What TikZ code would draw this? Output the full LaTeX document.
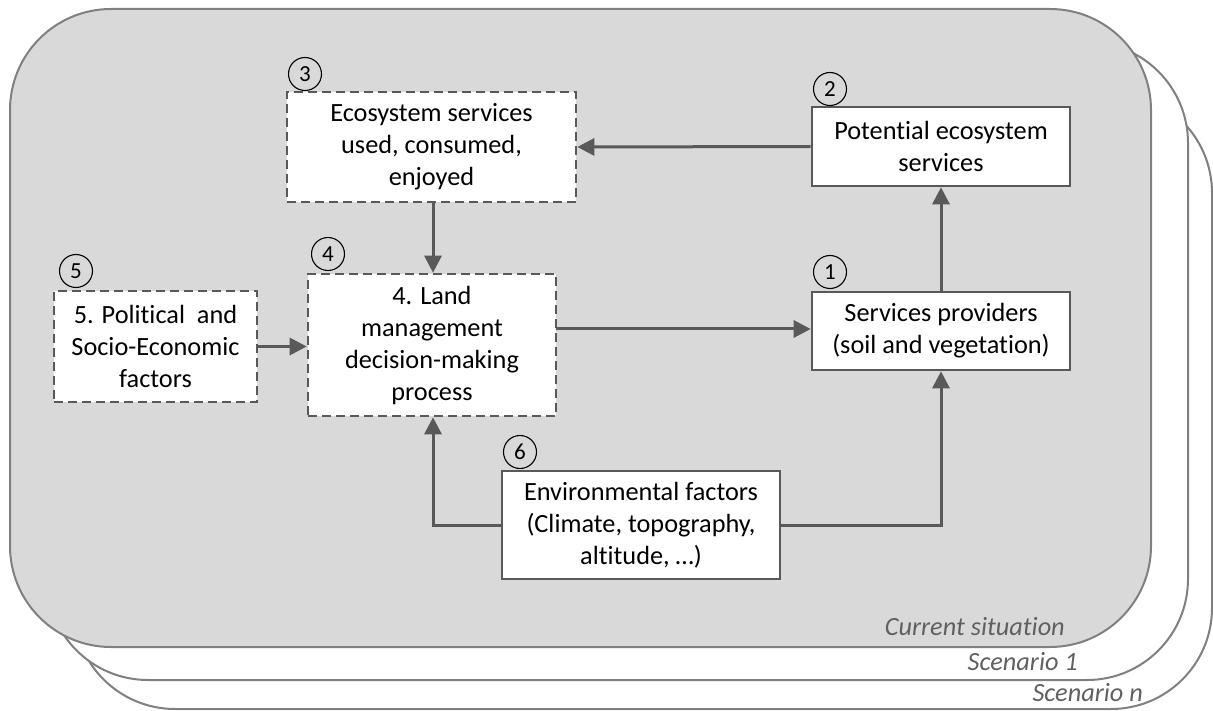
\documentclass[tikz,border=0pt]{standalone}
\usepackage{fontspec}
\setmainfont{Carlito}[Ligatures={NoCommon}]
\usetikzlibrary{arrows.meta}
\definecolor{edge}{HTML}{595959}
\definecolor{frame}{HTML}{808080}
\definecolor{panel}{HTML}{D9D9D9}
\definecolor{tagtext}{HTML}{606060}
\begin{document}
\begin{tikzpicture}[x=1pt,y=-1pt,
  every node/.style={font=\fontsize{26.3}{32}\selectfont},
  panelbox/.style={draw=frame, line width=2pt, rounded corners=101pt},
  solidbox/.style={draw=edge, line width=2.6pt, fill=white, align=center, inner sep=0pt},
  dashbox/.style={solidbox, dash pattern=on 9pt off 5pt},
  num/.style={draw=black, line width=1.1pt, circle, minimum size=33pt, inner sep=0pt, font=\fontsize{23}{23}\selectfont},
  arr/.style={draw=edge, line width=3pt, -{Triangle[length=17pt,width=17pt]}},
  tag/.style={font=\fontsize{26.3}{31}\selectfont\itshape, text=tagtext, anchor=base east, inner sep=0pt}]
\useasboundingbox[fill=white] (0,0) rectangle (1213,711);

% stacked scenario panels
\draw[panelbox, fill=white] (74,92) rectangle (1212,709);
\draw[panelbox, fill=white] (47,42) rectangle (1188,680);
\draw[panelbox, fill=panel] (10,9) rectangle (1151,647);

\node[tag] (tn) at (1143,701) {Scenario n};
\node[tag] (t1) at (1078,670) {Scenario 1};
\node[tag] (tc) at (1065,635) {Current situation};

% boxes
\node[dashbox, minimum width=289pt, minimum height=110pt] (b3) at (431.5,147) {Ecosystem services\\used, consumed,\\enjoyed};
\node[solidbox, minimum width=258pt, minimum height=79pt] (b2) at (941,146.5) {Potential ecosystem\\services};
\node[dashbox, minimum width=203pt, minimum height=111pt] (b5) at (155.5,346.5) {5. Political\ \ and\\Socio-Economic\\factors};
\node[dashbox, minimum width=248pt, minimum height=142pt] (b4) at (432,345) {4. Land\\management\\decision-making\\process};
\node[solidbox, minimum width=258pt, minimum height=78pt] (b1) at (941,331) {Services providers\\(soil and vegetation)};
\node[solidbox, minimum width=278pt, minimum height=108pt] (b6) at (641,525) {Environmental factors\\(Climate, topography,\\altitude, \dots)};

% numbers
\node[num] (n3) at (305,74) {3};
\node[num] (n2) at (830,89) {2};
\node[num] (n5) at (76,271) {5};
\node[num] (n4) at (328,254) {4};
\node[num] (n1) at (830,272) {1};
\node[num] (n6) at (520,452) {6};

% connectors
\draw[arr] (b2.west) -- (b3.east);
\draw[arr] ([xshift=1.5pt]b3.south) -- ([xshift=1.5pt]b3.south |- b4.north);
\draw[arr] (b5.east) -- (b5.east -| b4.west);
\coordinate (c41) at (556,329);
\draw[arr] (c41) -- (c41 -| b1.west);
\draw[arr] (b1.north) -- (b2.south);
\draw[arr] (b6.west) -| ([xshift=1pt]b4.south);
\draw[arr] (b6.east) -| (b1.south);
\end{tikzpicture}
\end{document}
